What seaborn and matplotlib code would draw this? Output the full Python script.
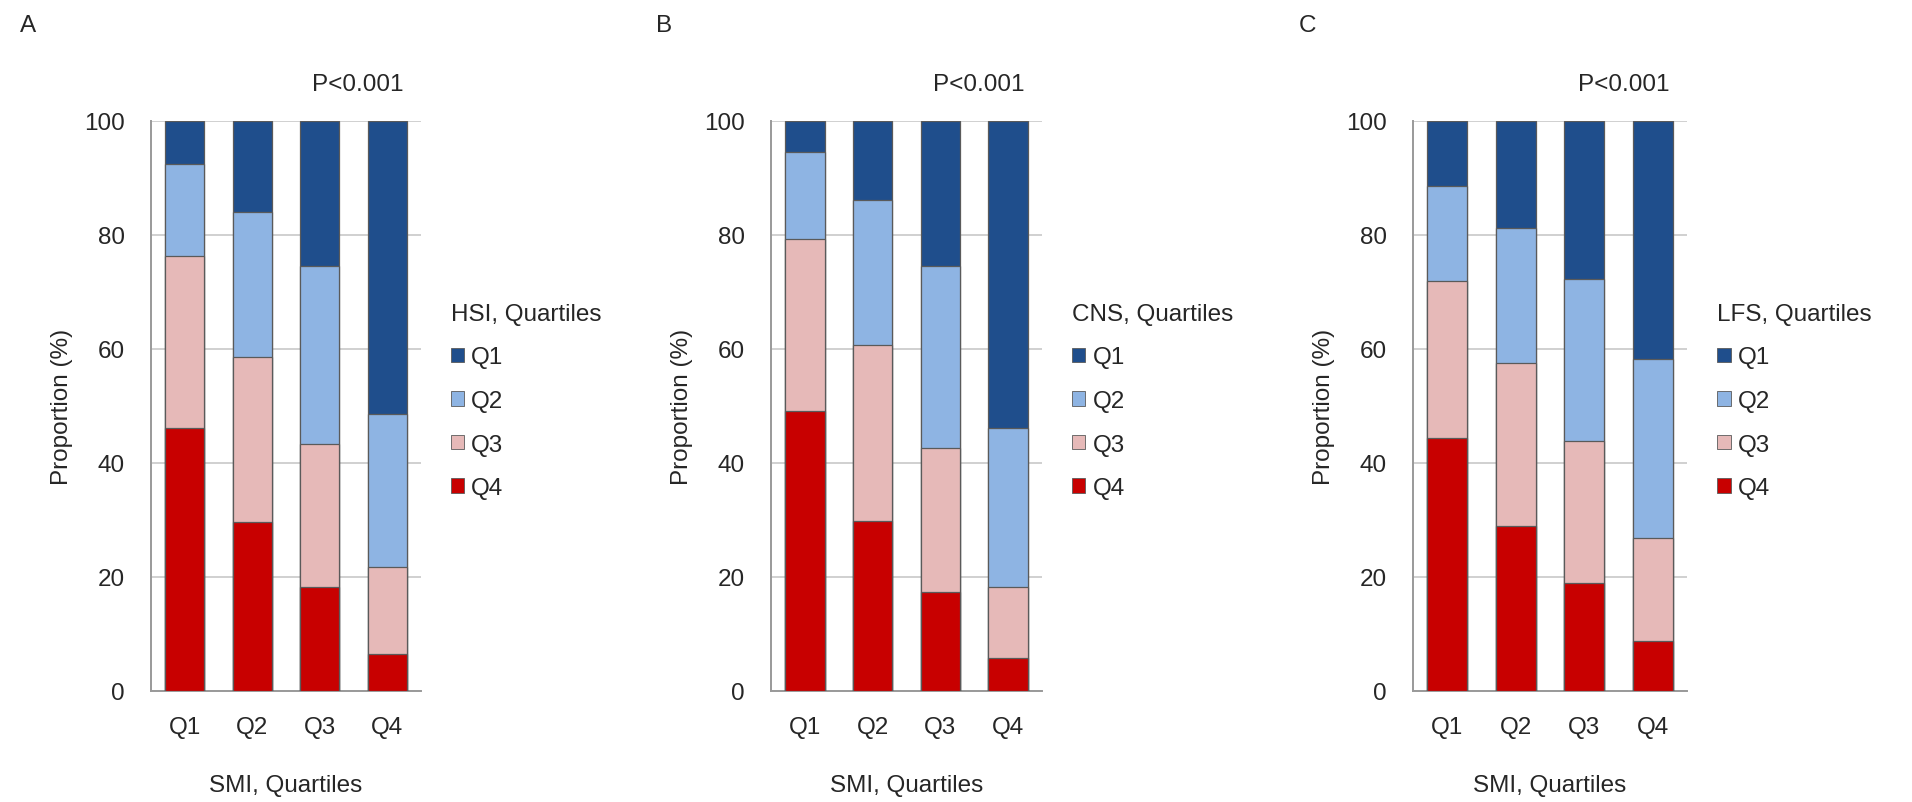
import numpy as np
import pandas as pd
import matplotlib
matplotlib.use("Agg")
import matplotlib.pyplot as plt
from matplotlib.patches import Patch
import seaborn as sns

sns.set_theme(style="white")
plt.rcParams['font.family'] = ['Liberation Sans', 'DejaVu Sans']

categories = ["Q1", "Q2", "Q3", "Q4"]          # SMI quartiles (x axis)
series_names = ["Q1", "Q2", "Q3", "Q4"]        # score quartiles (stack segments)
panel_letters = ["A", "B", "C"]
legend_titles = ["HSI, Quartiles", "CNS, Quartiles", "LFS, Quartiles"]
p_text = "P<0.001"
yticks = [0, 20, 40, 60, 80, 100]

# segment shares (%) per SMI quartile, for each score quartile
hsi_q4 = [46.2, 29.6, 18.2, 6.5]
hsi_q3 = [30.1, 29.0, 25.1, 15.3]
hsi_q2 = [16.2, 25.5, 31.2, 26.8]
hsi_q1 = [7.5, 15.9, 25.5, 51.4]

cns_q4 = [49.2, 29.9, 17.3, 5.8]
cns_q3 = [30.1, 30.8, 25.3, 12.5]
cns_q2 = [15.3, 25.4, 31.9, 27.9]
cns_q1 = [5.4, 13.9, 25.5, 53.8]

lfs_q4 = [44.3, 28.9, 19.0, 8.7]
lfs_q3 = [27.6, 28.6, 24.9, 18.1]
lfs_q2 = [16.7, 23.7, 28.4, 31.4]
lfs_q1 = [11.4, 18.8, 27.7, 41.8]

colors = {"Q1": "#1f4e8c", "Q2": "#8eb4e3", "Q3": "#e6b9b8", "Q4": "#c80000"}

panels = [
    {"Q4": hsi_q4, "Q3": hsi_q3, "Q2": hsi_q2, "Q1": hsi_q1},
    {"Q4": cns_q4, "Q3": cns_q3, "Q2": cns_q2, "Q1": cns_q1},
    {"Q4": lfs_q4, "Q3": lfs_q3, "Q2": lfs_q2, "Q1": lfs_q1},
]

W, H = 1912, 803
fig = plt.figure(figsize=(W / 100, H / 100), dpi=100)
ax_px = [(151, 421), (771, 1042), (1413, 1687)]
y_top, y_bot = 122, 692
letter_px = [28, 664, 1307]
fs = 17.5
tc = "#262626"

for i, data in enumerate(panels):
    l, r = ax_px[i]
    ax = fig.add_axes([l / W, 1 - y_bot / H, (r - l) / W, (y_bot - y_top) / H])
    df = pd.DataFrame(data, index=categories)
    # stack order from bottom: Q4, Q3, Q2, Q1
    cum = df[["Q4", "Q3", "Q2", "Q1"]].cumsum(axis=1)
    for s in ["Q1", "Q2", "Q3", "Q4"]:
        sns.barplot(x=categories, y=cum[s].values, color=colors[s], ax=ax,
                    width=0.58, edgecolor="#5a5a5a", linewidth=0.9,
                    saturation=1, zorder=3, errorbar=None)
    ax.set_ylim(0, 100)
    ax.set_xlim(-0.5, 3.5)
    ax.set_yticks(yticks)
    ax.set_yticklabels([str(t) for t in yticks], fontsize=fs, color=tc)
    ax.set_xticks(range(4))
    ax.set_xticklabels(categories, fontsize=fs, color=tc)
    ax.set_xticks([-0.5, 0.5, 1.5, 2.5, 3.5], minor=True)
    ax.tick_params(axis="x", which="major", length=0, pad=18)
    ax.tick_params(axis="x", which="minor", length=6, color="#888888", width=1.2)
    ax.tick_params(axis="y", which="major", length=7, color="#aaaaaa", width=1.2, pad=12)
    ax.yaxis.grid(True, color="#c8c8c8", linewidth=1.2, zorder=0)
    ax.set_axisbelow(True)
    for sp in ["top", "right"]:
        ax.spines[sp].set_visible(False)
    ax.spines["left"].set_color("#999999")
    ax.spines["bottom"].set_color("#999999")
    ax.spines["left"].set_linewidth(1.4)
    ax.spines["bottom"].set_linewidth(1.4)
    ax.set_ylabel("Proportion (%)", fontsize=fs, color=tc, labelpad=8)
    ax.set_xlabel("SMI, Quartiles", fontsize=fs, color=tc, labelpad=26)
    ax.text(0.935, 1.065, p_text, transform=ax.transAxes, ha="right", va="center",
            fontsize=fs, color=tc)
    fig.text(letter_px[i] / W, 1 - 26 / H, panel_letters[i], fontsize=fs, color=tc,
             ha="center", va="center")
    handles = [Patch(facecolor=colors[s], edgecolor="#5a5a5a", linewidth=0.6)
               for s in series_names]
    leg = ax.legend(handles, series_names, title=legend_titles[i],
                    loc="upper left", bbox_to_anchor=(1.11, 0.681), frameon=False,
                    fontsize=fs, title_fontsize=fs, handlelength=0.55,
                    handleheight=0.55, handletextpad=0.3, labelspacing=0.89,
                    borderaxespad=0, borderpad=0)
    leg._legend_box.align = "left"
    for t in leg.get_texts():
        t.set_color(tc)
    leg.get_title().set_color(tc)

fig.savefig("out.png", dpi=100, facecolor="white")
